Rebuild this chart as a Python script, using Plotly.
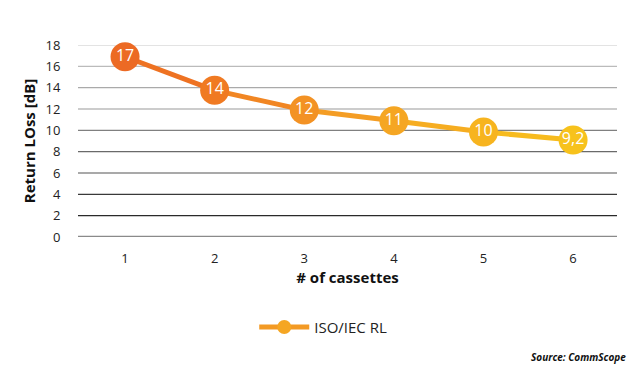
import plotly.graph_objects as go

cassettes = [1, 2, 3, 4, 5, 6]
return_loss = [16.9, 13.75, 11.9, 10.9, 9.85, 9.1]
point_labels = ["17", "14", "12", "11", "10", "9,2"]
point_colors = ["#EC6A24", "#F07A22", "#F39224", "#F5A623", "#F7B41F", "#F7C21C"]
segment_colors = ["#EE7222", "#F18623", "#F49D24", "#F6AD21", "#F7BB1E"]
y_ticks = [0, 2, 4, 6, 8, 10, 12, 14, 16, 18]
grid_colors = ["#8a8a8a", "#2a2a2a", "#3a3a3a", "#555555", "#6a6a6a",
               "#808080", "#999999", "#aaaaaa", "#bbbbbb", "#c8c8c8"]
grid_widths = [2.5, 1.2, 1.2, 1.2, 1.2, 1.2, 1.2, 1.2, 1.2, 1.2]

fig = go.Figure()

for i in range(len(cassettes) - 1):
    fig.add_trace(go.Scatter(
        x=cassettes[i:i + 2], y=return_loss[i:i + 2], mode="lines",
        line=dict(color=segment_colors[i], width=5),
        showlegend=False, hoverinfo="skip", cliponaxis=False))

fig.add_trace(go.Scatter(
    x=cassettes, y=return_loss, mode="markers+text",
    marker=dict(size=29, color=point_colors, line=dict(width=0)),
    text=point_labels, textposition="middle center",
    textfont=dict(family="Open Sans", size=16, color="white"),
    showlegend=False, cliponaxis=False))

fig.add_trace(go.Scatter(
    x=[None], y=[None], mode="lines+markers", name="ISO/IEC RL",
    line=dict(color="#F39A24", width=5),
    marker=dict(size=14, color="#F5A623")))

shapes = []
for yv, c, w in zip(y_ticks, grid_colors, grid_widths):
    shapes.append(dict(type="line", xref="paper", yref="y", x0=0, x1=1,
                       y0=yv, y1=yv, line=dict(color=c, width=w), layer="below"))

fig.update_layout(
    width=633, height=357,
    margin=dict(l=70, r=24, t=37, b=128),
    plot_bgcolor="white", paper_bgcolor="white",
    font=dict(family="Open Sans", color="#222222"),
    shapes=shapes,
    xaxis=dict(range=[0.475, 6.49], tickvals=cassettes, showgrid=False, automargin=False,
               zeroline=False, showline=False, ticks="outside", ticklen=9,
               tickcolor="rgba(0,0,0,0)", tickfont=dict(size=13, color="#222"),
               title=dict(text="<b># of cassettes</b>", font=dict(size=15, color="#111"), standoff=6)),
    yaxis=dict(range=[0, 18], tickvals=y_ticks, showgrid=False, zeroline=False, automargin=False,
               showline=False, ticks="outside", ticklen=14,
               tickcolor="rgba(0,0,0,0)", tickfont=dict(size=13, color="#222"),
               title=dict(text="<b>Return LOss [dB]</b>", font=dict(size=15, color="#111"), standoff=6)),
    legend=dict(orientation="h", x=0.455, xanchor="center", y=-0.47, yanchor="middle",
                font=dict(size=15, color="#222"), itemwidth=50),
    annotations=[dict(text="<b><i>Source: CommScope</i></b>", xref="paper", yref="paper",
                      x=1.02, y=-0.625, xanchor="right", yanchor="middle",
                      showarrow=False, font=dict(size=10, color="#111"))],
)

fig.write_html("out.html")
